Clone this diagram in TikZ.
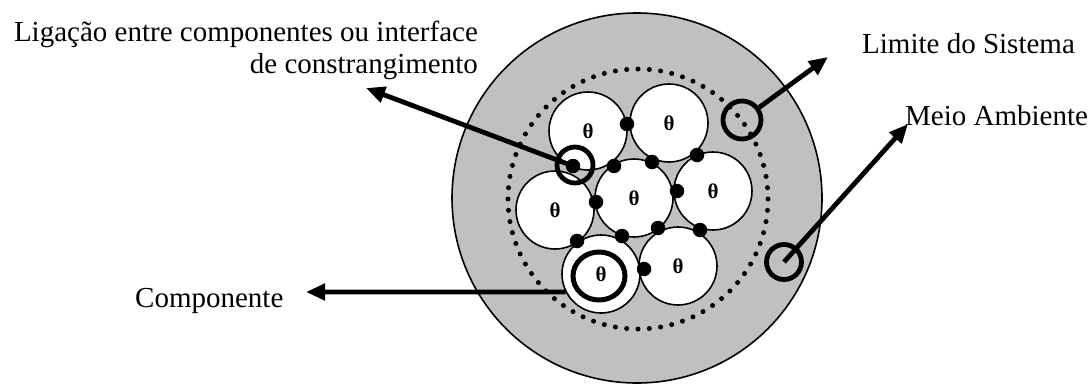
\documentclass[tikz,border=0pt]{standalone}
\usepackage{fontspec}
\setmainfont{Liberation Serif}
\usetikzlibrary{arrows.meta,shapes.geometric}
\definecolor{bggray}{RGB}{192,192,192}
\begin{document}
\begin{tikzpicture}[x=1pt,y=-1pt,
  comp/.style={circle,draw,line width=1.6pt,fill=white,minimum size=78pt,inner sep=0pt,font=\fontsize{21}{21}\selectfont\bfseries},
  linkdot/.style={circle,fill=black,minimum size=14.5pt,inner sep=0pt},
  ring/.style={circle,draw,line width=4.8pt,inner sep=0pt},
  lbl/.style={font=\fontsize{29}{32}\selectfont,inner sep=0pt},
  arr/.style={line width=4.8pt,-{Triangle[length=19pt,width=16pt]}}]
\useasboundingbox (0,0) rectangle (1090,383);
% environment
\node[circle,draw,line width=1.6pt,fill=bggray,minimum size=370pt,inner sep=0pt] (env) at (637,198) {};
% system boundary (dotted)
\coordinate (sysc) at (638,199);
\foreach \a in {0,5,...,355} \fill (sysc) ++(\a:130) circle (2.5pt);
% components
\node[comp] (tl) at (588,131) {θ};
\node[comp] (tr) at (669,123) {θ};
\node[comp] (c)  at (634,198) {θ};
\node[comp] (r)  at (713,191) {θ};
\node[comp] (l)  at (555,210) {θ};
\node[comp] (bl) at (601,274) {θ};
\node[comp] (br) at (678,266) {θ};
% links
\node[linkdot] (d1)  at (627,124) {};
\node[linkdot] (d2)  at (573,166) {};
\node[linkdot] (d3)  at (614,166) {};
\node[linkdot] (d4)  at (652,162) {};
\node[linkdot] (d5)  at (697,155) {};
\node[linkdot] (d6)  at (677,191) {};
\node[linkdot] (d7)  at (596,202) {};
\node[linkdot] (d8)  at (577,241) {};
\node[linkdot] (d9)  at (622,236) {};
\node[linkdot] (d10) at (658,228) {};
\node[linkdot] (d11) at (700,230) {};
\node[linkdot] (d12) at (644,269) {};
% highlight rings
\node[ring,minimum size=36pt] (ligring) at (575,165) {};
\node[ring,minimum size=38pt] (limring) at (742,120) {};
\node[ring,minimum size=35pt] (meioring) at (784,262) {};
\node[ellipse,draw,line width=5pt,inner sep=0pt,minimum width=52pt,minimum height=48pt] (compring) at (599,276) {};
% labels
\node[lbl,anchor=base east] (lig1) at (478,41) {Ligação entre componentes ou interface};
\node[lbl,anchor=base east] (lig2) at (478,73) {de constrangimento};
\node[lbl,anchor=base west] (comp) at (135,307) {Componente};
\node[lbl,anchor=base west] (lim) at (862,53) {Limite do Sistema};
\node[lbl,anchor=base west] (meio) at (905,125) {Meio Ambiente};
% arrows
\coordinate (ligtip) at (366,88);
\coordinate (limtip) at (828,57);
\coordinate (meiotip) at (908,124);
\coordinate (comptip) at (306,292);
\draw[arr] (d2.center) -- (ligtip);
\draw[arr] (limring) -- (limtip);
\draw[arr] (meioring.center) -- (meiotip);
\draw[arr] (bl.207) -- (comptip);
\end{tikzpicture}
\end{document}
